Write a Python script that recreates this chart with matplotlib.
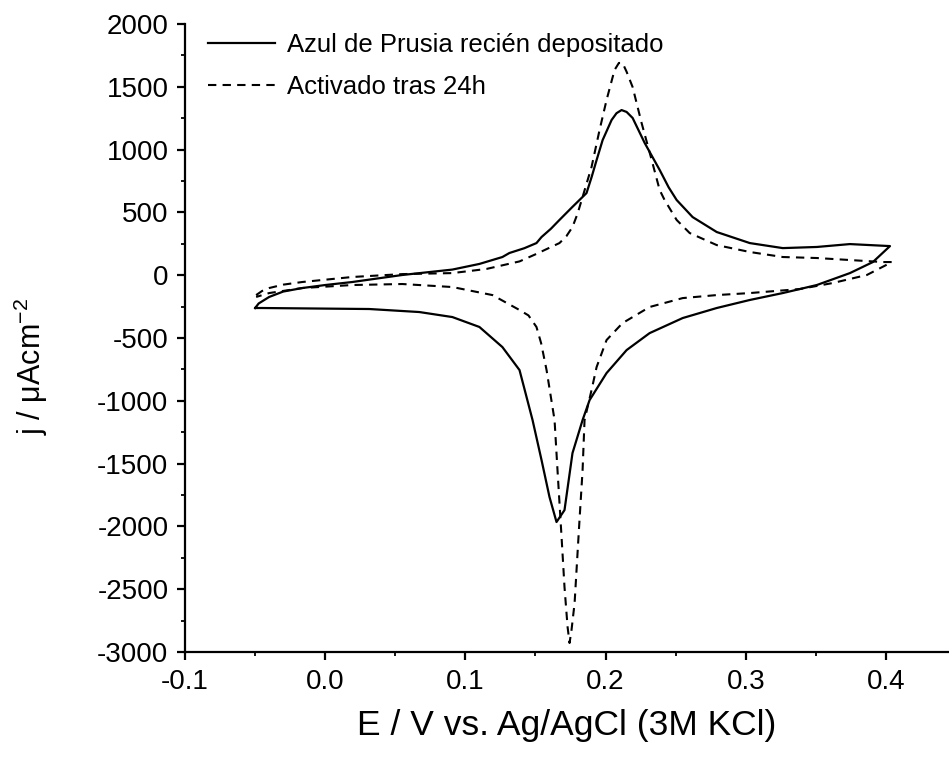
import matplotlib
matplotlib.use("Agg")
import matplotlib.pyplot as plt
from matplotlib.ticker import MultipleLocator

plt.rcParams['font.family'] = ['Liberation Sans', 'DejaVu Sans']
plt.rcParams['mathtext.fontset'] = 'custom'
plt.rcParams['mathtext.rm'] = 'Liberation Sans'

# Freshly deposited Prussian Blue (solid) - forward (anodic) scan
fresh_fwd_E = [-0.05, -0.0475, -0.04, -0.03, -0.0164, 0.0, 0.0193, 0.055, 0.0907, 0.11, 0.1264,
               0.1314, 0.1420, 0.1507, 0.1543, 0.1610, 0.1671, 0.1760, 0.1864, 0.1900, 0.1936,
               0.1979, 0.2043, 0.2078, 0.2114, 0.2150, 0.2193, 0.2279, 0.2386, 0.2450, 0.2507,
               0.2621, 0.2793, 0.3029, 0.3264, 0.3507, 0.3743, 0.4029]
fresh_fwd_j = [-261, -225, -173, -130, -102, -78, -54, 2, 45, 90, 145,
               177, 215, 256, 304, 370, 440, 540, 654, 780, 917,
               1076, 1236, 1290, 1315, 1300, 1252, 1053, 838, 700, 599,
               463, 344, 256, 216, 225, 248, 232]
# Freshly deposited - reverse (cathodic) scan
fresh_rev_E = [0.4029, 0.3907, 0.3743, 0.3507, 0.3264, 0.3029, 0.2793, 0.255, 0.2314, 0.215,
               0.2007, 0.1886, 0.1836, 0.1764, 0.1707, 0.165, 0.16, 0.1543, 0.1479, 0.1420,
               0.1386, 0.1264, 0.11, 0.0907, 0.0671, 0.0314, -0.045, -0.05]
fresh_rev_j = [232, 105, 17, -78, -142, -197, -261, -341, -461, -596,
               -779, -994, -1153, -1416, -1870, -1965, -1766, -1471, -1153, -900,
               -755, -572, -412, -333, -293, -269, -261, -261]

# Activated after 24h (dashed) - forward scan
act_fwd_E = [-0.0493, -0.045, -0.04, -0.03, -0.0164, 0.0193, 0.055, 0.0907, 0.115, 0.1386,
             0.1507, 0.1621, 0.1671, 0.1720, 0.1764, 0.1800, 0.1836, 0.19, 0.1957, 0.2007,
             0.2064, 0.2095, 0.2121, 0.2150, 0.2193, 0.2257, 0.2329, 0.2386, 0.2421, 0.2507,
             0.26, 0.2793, 0.3029, 0.3264, 0.3507, 0.3743, 0.3979, 0.4043]
act_fwd_j = [-158, -125, -102, -75, -54, -14, 9, 17, 50, 110,
             170, 230, 256, 310, 384, 490, 623, 862, 1156, 1395,
             1634, 1690, 1690, 1620, 1498, 1212, 917, 678, 599, 440,
             336, 240, 185, 145, 137, 121, 105, 105]
# Activated after 24h - reverse scan
act_rev_E = [0.4043, 0.4029, 0.3864, 0.3621, 0.3386, 0.3029, 0.2793, 0.255, 0.2314, 0.2121,
             0.2007, 0.1936, 0.19, 0.185, 0.1836, 0.1814, 0.18, 0.1779, 0.1757, 0.1743,
             0.1729, 0.1707, 0.1686, 0.1657, 0.1636, 0.1579, 0.1540, 0.1507, 0.1450, 0.1386,
             0.1193, 0.0907, 0.055, 0.0193, -0.0164, -0.04, -0.0493]
act_rev_j = [105, 97, 2, -62, -110, -142, -158, -182, -253, -381,
             -516, -731, -914, -1153, -1551, -1949, -2212, -2610, -2825, -2928,
             -2801, -2483, -2085, -1551, -1153, -755, -540, -412, -320, -277,
             -158, -94, -70, -78, -102, -142, -173]

labels = ['Azul de Prusia recién depositado', 'Activado tras 24h']

fig = plt.figure(figsize=(9.49, 7.58), dpi=100)
ax = fig.add_axes([0.195, 0.1398, 0.805, 0.8285])

ax.plot(fresh_fwd_E + fresh_rev_E, fresh_fwd_j + fresh_rev_j, color='black', lw=1.6,
        label=labels[0])
ax.plot(act_fwd_E + act_rev_E, act_fwd_j + act_rev_j, color='black', lw=1.5,
        ls=(0, (4, 3)), label=labels[1])

ax.set_xlim(-0.1, 0.445)
ax.set_ylim(-3000, 2000)
ax.set_xticks([-0.1, 0.0, 0.1, 0.2, 0.3, 0.4])
ax.set_xticklabels(['-0.1', '0.0', '0.1', '0.2', '0.3', '0.4'])
ax.xaxis.set_minor_locator(MultipleLocator(0.05))
ax.set_yticks(list(range(-3000, 2001, 500)))
ax.set_yticklabels([str(v) for v in range(-3000, 2001, 500)])
ax.yaxis.set_minor_locator(MultipleLocator(250))

for s in ['top', 'right']:
    ax.spines[s].set_visible(False)
for s in ['left', 'bottom']:
    ax.spines[s].set_linewidth(1.6)

ax.tick_params(which='major', direction='out', length=6, width=1.6, labelsize=20, pad=6)
ax.tick_params(which='minor', direction='out', length=3, width=1.3)

ax.set_xlabel('E / V vs. Ag/AgCl (3M KCl)', fontsize=25.5, labelpad=10)
ax.set_ylabel('j / μAcm$^{\\mathregular{-2}}$', fontsize=22)
ax.yaxis.set_label_coords(-0.177, 0.455)

leg = ax.legend(loc='upper left', bbox_to_anchor=(0.0, 1.022), frameon=False, fontsize=18.5,
                handlelength=2.6, handletextpad=0.45, labelspacing=0.68)

fig.savefig('out.png', dpi=100)
